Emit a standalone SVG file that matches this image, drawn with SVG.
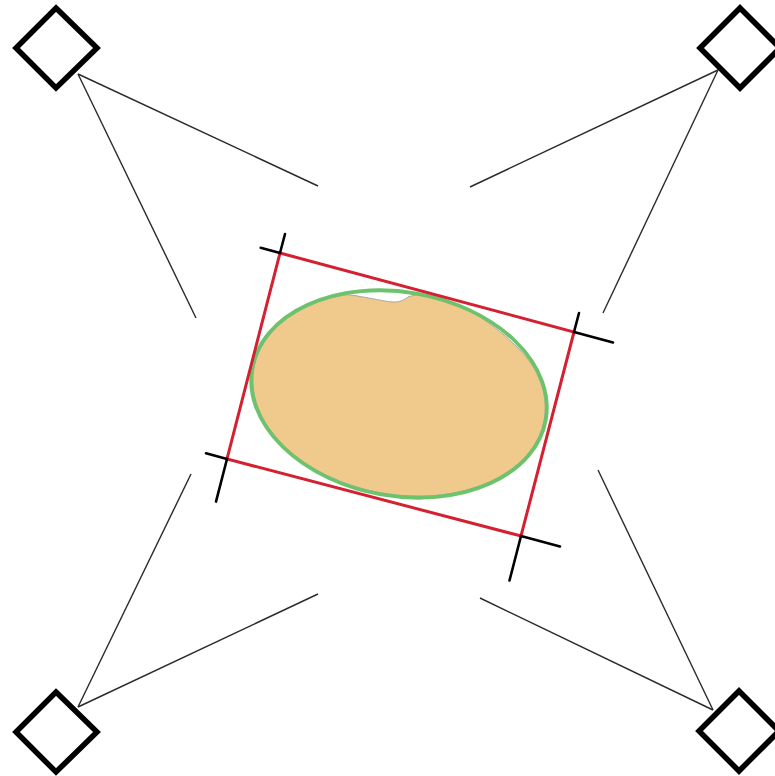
<svg xmlns="http://www.w3.org/2000/svg" width="775" height="776" viewBox="0 0 775 776">
<style>
.diamond{fill:#ffffff;stroke:#000000;stroke-width:5.5;stroke-linejoin:miter}
.conn{stroke:#2a2a2a;stroke-width:1.4;fill:none}
.tick{stroke:#000000;stroke-width:2.6;stroke-linecap:round}
.rect{fill:none;stroke:#d42030;stroke-width:3;stroke-linejoin:miter}
</style>
<rect width="775" height="776" fill="#ffffff"/>
<g id="connectors">
<line class="conn" x1="78" y1="74" x2="318" y2="186"/>
<line class="conn" x1="78" y1="74" x2="196" y2="318"/>
<line class="conn" x1="718" y1="70" x2="470" y2="187"/>
<line class="conn" x1="718" y1="70" x2="603" y2="313"/>
<line class="conn" x1="78" y1="707" x2="191" y2="474"/>
<line class="conn" x1="78" y1="707" x2="318" y2="594"/>
<line class="conn" x1="713" y1="710" x2="598" y2="470"/>
<line class="conn" x1="713" y1="710" x2="480" y2="598"/>
</g>
<g id="node-tl"><path class="diamond" d="M56,8 L97,48 L56,88 L16,48 Z"/></g>
<g id="node-tr"><path class="diamond" d="M740,8 L780,48 L740,88 L700,48 Z"/></g>
<g id="node-bl"><path class="diamond" d="M56,692 L97,732 L56,772 L16,732 Z"/></g>
<g id="node-br"><path class="diamond" d="M739,691 L779,731 L739,771 L699,731 Z"/></g>
<g id="object">
<path d="M543.9,393.1 A147.5 100.5 10 1 1 341.5,295.5 C348,294 355,295.5 360,296.5 C370,298 385,301.5 393,302 C399,302.5 404,300 408,297 C412,295 418,295 424,295.5 C440,297 460,304 480,317 C500,330 520,348 530,362 C537,372 541,382 543.9,393.1 Z" fill="#f0c98c" stroke="#a8a8a8" stroke-width="1"/>
<ellipse cx="399" cy="394" rx="149" ry="102" transform="rotate(10 399 394)" fill="none" stroke="#6cc36c" stroke-width="3.8"/>
</g>
<g id="bbox">
<polygon class="rect" points="280,253 574,332 521,536 227,459"/>
<line class="tick" x1="260.7" y1="247.8" x2="280" y2="253"/>
<line class="tick" x1="285" y1="234" x2="280" y2="253"/>
<line class="tick" x1="579" y1="313" x2="574" y2="332"/>
<line class="tick" x1="613" y1="342.5" x2="574" y2="332"/>
<line class="tick" x1="206" y1="453.3" x2="227" y2="459"/>
<line class="tick" x1="216" y1="501.6" x2="227" y2="459"/>
<line class="tick" x1="560" y1="546.4" x2="521" y2="536"/>
<line class="tick" x1="509.5" y1="580.5" x2="521" y2="536"/>
</g>
</svg>
